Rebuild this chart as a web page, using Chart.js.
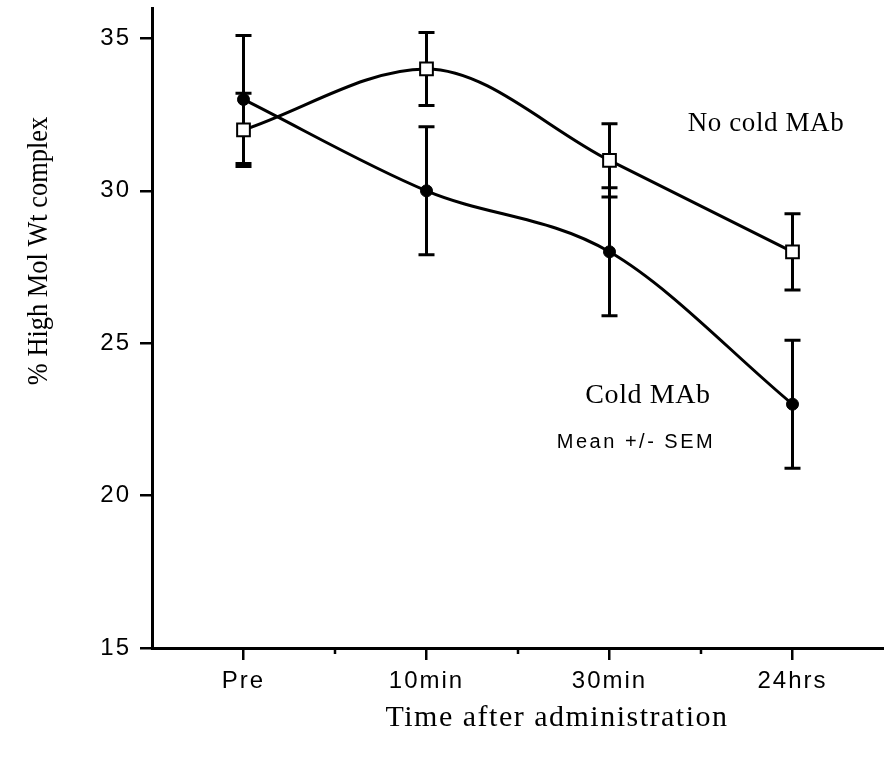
<!DOCTYPE html>
<html>
<head>
<meta charset="utf-8">
<title>% High Mol Wt complex</title>
<script src="https://cdn.jsdelivr.net/npm/chart.js@4.4.0/dist/chart.umd.min.js"></script>
<style>
  html, body { margin: 0; padding: 0; background: #fff; }
  #wrap { width: 884px; height: 758px; position: relative; }
</style>
</head>
<body>
<div id="wrap"><canvas id="chart"></canvas></div>
<script>
// Data
const timepoints = ['Pre', '10min', '30min', '24hrs'];
const noColdMean = [32, 34, 31, 28];
const noColdSem = [1.2, 1.2, 1.2, 1.25];
const coldMean = [33, 30, 28, 23];
const coldSem = [2.1, 2.1, 2.1, 2.1];
const yTicks = [15, 20, 25, 30, 35];

const SERIF = '"Liberation Serif", "Times New Roman", serif';
const SANS = '"Liberation Sans", Arial, sans-serif';

// error bars drawn under the markers
const errorBars = {
    id: 'errorBars',
    beforeDatasetsDraw(chart) {
        const ctx = chart.ctx;
        const y = chart.scales.y;
        ctx.save();
        ctx.strokeStyle = '#000';
        ctx.lineWidth = 3;
        chart.data.datasets.forEach(function(ds, i) {
            const meta = chart.getDatasetMeta(i);
            meta.data.forEach(function(pt, j) {
                const top = y.getPixelForValue(ds.data[j] + ds.sem[j]);
                const bot = y.getPixelForValue(ds.data[j] - ds.sem[j]);
                ctx.beginPath();
                ctx.moveTo(pt.x, top); ctx.lineTo(pt.x, bot);
                ctx.moveTo(pt.x - 8, top); ctx.lineTo(pt.x + 8, top);
                ctx.moveTo(pt.x - 8, bot); ctx.lineTo(pt.x + 8, bot);
                ctx.stroke();
            });
        });
        ctx.restore();
    }
};

// small ticks between categories + text annotations
const extras = {
    id: 'extras',
    beforeDraw(chart) {
        chart.ctx.letterSpacing = '2px';
    },
    afterDraw(chart) {
        const ctx = chart.ctx;
        const x = chart.scales.x;
        const base = chart.chartArea.bottom;
        ctx.save();
        ctx.strokeStyle = '#000';
        ctx.lineWidth = 2.5;
        for (let i = 0; i < timepoints.length - 1; i++) {
            const mx = (x.getPixelForValue(i) + x.getPixelForValue(i + 1)) / 2;
            ctx.beginPath();
            ctx.moveTo(mx, base);
            ctx.lineTo(mx, base + 6);
            ctx.stroke();
        }

        ctx.fillStyle = '#000';
        ctx.textAlign = 'center';
        ctx.textBaseline = 'middle';

        ctx.letterSpacing = '1.5px';
        ctx.font = '30px ' + SERIF;
        ctx.fillText('Time after administration', 557, 718);

        ctx.letterSpacing = '0.6px';
        ctx.font = '27px ' + SERIF;
        ctx.fillText('No cold MAb', 766, 124);
        ctx.font = '28px ' + SERIF;
        ctx.fillText('Cold MAb', 648, 396);

        ctx.letterSpacing = '2.5px';
        ctx.font = '20px ' + SANS;
        ctx.fillText('Mean +/- SEM', 636, 442);

        ctx.letterSpacing = '0px';
        ctx.save();
        ctx.translate(39, 251);
        ctx.rotate(-Math.PI / 2);
        ctx.scale(0.88, 1);
        ctx.font = '30px ' + SERIF;
        ctx.fillText('% High Mol Wt complex', 0, 0);
        ctx.restore();

        ctx.restore();
    }
};

function noEdgePadding(s) {
    s.paddingTop = 0;
    s.paddingBottom = 0;
    s.paddingLeft = 0;
    s.paddingRight = 0;
}

new Chart(document.getElementById('chart'), {
    type: 'line',
    data: {
        labels: timepoints,
        datasets: [
            {
                label: 'No cold MAb',
                data: noColdMean,
                sem: noColdSem,
                borderColor: '#000',
                borderWidth: 3,
                cubicInterpolationMode: 'monotone',
                pointStyle: 'rect',
                pointRadius: 9,
                pointBackgroundColor: '#fff',
                pointBorderColor: '#000',
                pointBorderWidth: 2
            },
            {
                label: 'Cold MAb',
                data: coldMean,
                sem: coldSem,
                borderColor: '#000',
                borderWidth: 3,
                cubicInterpolationMode: 'monotone',
                pointStyle: 'circle',
                pointRadius: 6,
                pointBackgroundColor: '#000',
                pointBorderColor: '#000',
                pointBorderWidth: 1
            }
        ]
    },
    options: {
        responsive: true,
        maintainAspectRatio: false,
        animation: false,
        layout: { autoPadding: false, padding: { top: 8, right: 0, left: 0, bottom: 0 } },
        plugins: {
            legend: { display: false },
            tooltip: { enabled: false }
        },
        scales: {
            x: {
                type: 'category',
                offset: true,
                afterFit: function(s) { s.height = 110; noEdgePadding(s); },
                border: { display: true, color: '#000', width: 3 },
                grid: {
                    offset: false,
                    drawOnChartArea: false,
                    drawTicks: true,
                    tickLength: 12,
                    color: '#000',
                    lineWidth: 2.5
                },
                ticks: {
                    color: '#000',
                    padding: 7,
                    maxRotation: 0,
                    font: { family: SANS, size: 24 }
                }
            },
            y: {
                min: 15,
                max: 36,
                afterFit: function(s) { s.width = 152; noEdgePadding(s); },
                afterBuildTicks: function(s) {
                    s.ticks = yTicks.map(function(v) { return { value: v }; });
                },
                border: { display: true, color: '#000', width: 3 },
                grid: {
                    drawOnChartArea: false,
                    drawTicks: true,
                    tickLength: 12,
                    color: '#000',
                    lineWidth: 2.5
                },
                ticks: {
                    color: '#000',
                    padding: 9,
                    font: { family: SANS, size: 24 }
                }
            }
        }
    },
    plugins: [errorBars, extras]
});
</script>
</body>
</html>
